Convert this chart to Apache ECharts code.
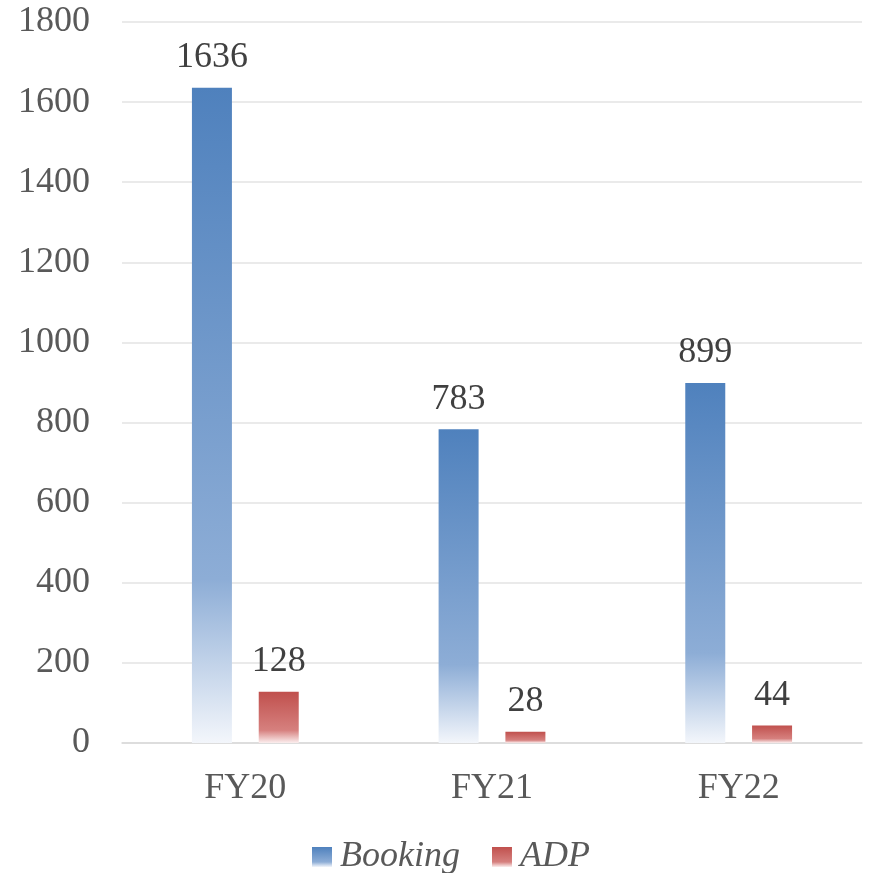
<!DOCTYPE html>
<html>
<head>
<meta charset="utf-8">
<script src="https://cdn.jsdelivr.net/npm/echarts@6/dist/echarts.min.js"></script>
<style>html,body{margin:0;padding:0;background:#fff}#c{width:869px;height:873px}</style>
</head>
<body>
<div id="c"></div>
<script>
const categories = ['FY20', 'FY21', 'FY22'];
const bookingValues = [1636, 783, 899];
const adpValues = [128, 28, 44];
const seriesNames = ['Booking', 'ADP'];

const FONT = '"Liberation Serif", "Times New Roman", serif';
function grad(top, mid, bottom) {
  return new echarts.graphic.LinearGradient(0, 0, 0, 1, [
    {offset: 0, color: top},
    {offset: 0.75, color: mid},
    {offset: 1, color: bottom}
  ]);
}
const blueGrad = grad('#4f81bd', '#8dadd6', '#f3f6fb');
const redGrad = grad('#c0504d', '#d6807e', '#fbeeee');

const chart = echarts.init(document.getElementById('c'), null, {renderer: 'canvas'});
chart.setOption({
  animation: false,
  backgroundColor: '#ffffff',
  grid: {left: 122, right: 7, top: 22, bottom: 130, containLabel: false},
  legend: {
    left: 307, top: 834,
    itemWidth: 20, itemHeight: 20, itemGap: 32,
    textStyle: {fontFamily: FONT, fontSize: 36, fontStyle: 'italic', color: '#595959', padding: [0,0,0,3]},
    data: [
      {name: seriesNames[0], icon: 'rect', itemStyle: {color: blueGrad}},
      {name: seriesNames[1], icon: 'rect', itemStyle: {color: redGrad}}
    ]
  },
  xAxis: {
    type: 'category', data: categories,
    axisLine: {show: true, lineStyle: {color: '#d9d9d9', width: 1.5}},
    axisTick: {show: false},
    axisLabel: {fontFamily: FONT, fontSize: 36, color: '#595959', margin: 28}
  },
  yAxis: {
    type: 'value', min: 0, max: 1800, interval: 200,
    axisLine: {show: false}, axisTick: {show: false},
    splitLine: {lineStyle: {color: '#e3e3e3', width: 1.5}},
    axisLabel: {fontFamily: FONT, fontSize: 36, color: '#595959', margin: 32, formatter: v => String(v)}
  },
  series: [
    {
      name: seriesNames[0], type: 'bar', data: bookingValues,
      barWidth: 40, barGap: '67%',
      itemStyle: {color: blueGrad},
      label: {show: true, position: 'top', distance: 12, fontFamily: FONT, fontSize: 36, color: '#404040'}
    },
    {
      name: seriesNames[1], type: 'bar', data: adpValues,
      barWidth: 40, barGap: '67%',
      itemStyle: {color: redGrad},
      label: {show: true, position: 'top', distance: 12, fontFamily: FONT, fontSize: 36, color: '#404040'}
    }
  ]
});
</script>
</body>
</html>
